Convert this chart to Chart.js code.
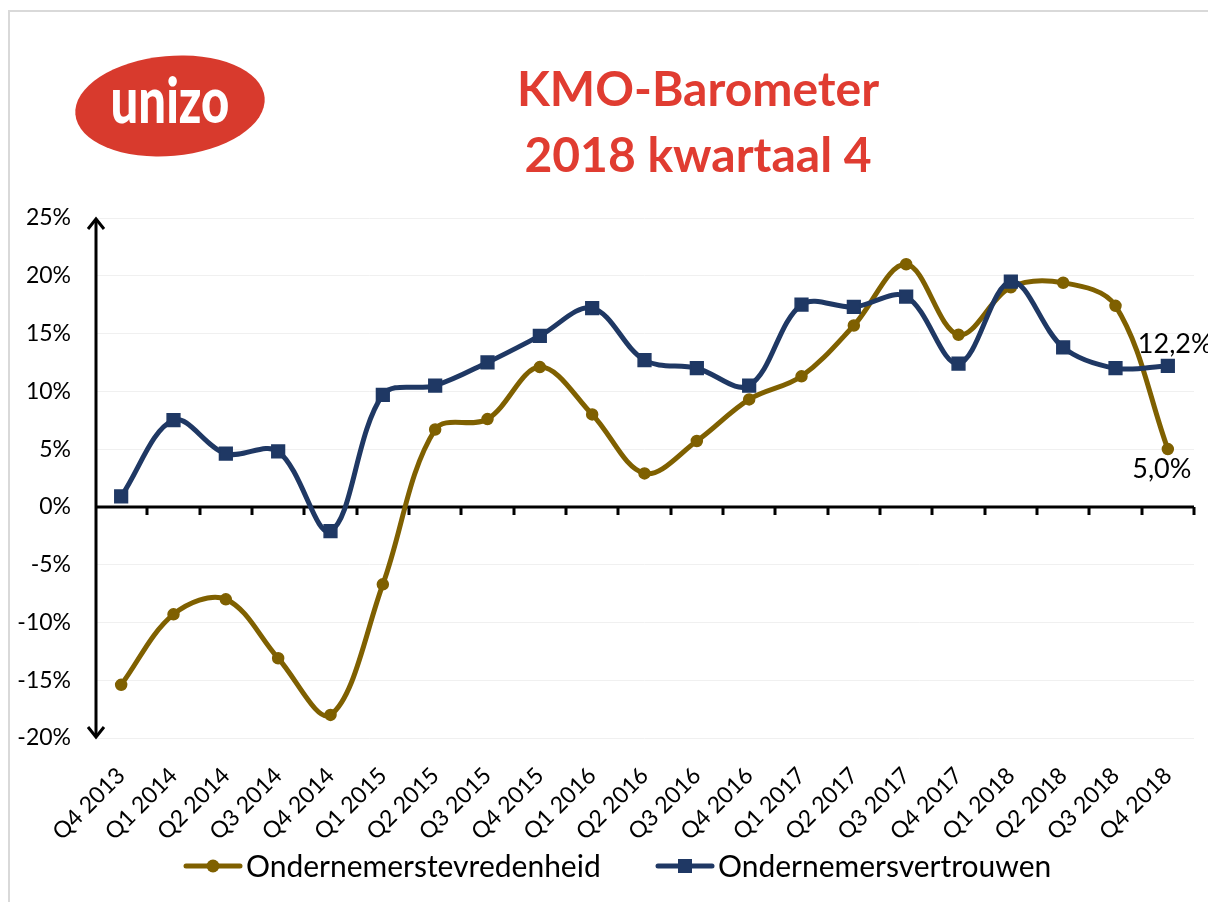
<!DOCTYPE html>
<html>
<head>
<meta charset="utf-8">
<title>KMO-Barometer 2018 kwartaal 4</title>
<script src="https://cdn.jsdelivr.net/npm/chart.js@4/dist/chart.umd.min.js"></script>
<style>
  html, body { margin: 0; padding: 0; background: #fff; }
  #wrap { width: 1208px; height: 902px; }
</style>
</head>
<body>
<div id="wrap"><canvas id="barometer" width="1208" height="902"></canvas></div>
<script>
const quarters = [
  "Q4 2013", "Q1 2014", "Q2 2014", "Q3 2014", "Q4 2014", "Q1 2015", "Q2 2015",
  "Q3 2015", "Q4 2015", "Q1 2016", "Q2 2016", "Q3 2016", "Q4 2016", "Q1 2017",
  "Q2 2017", "Q3 2017", "Q4 2017", "Q1 2018", "Q2 2018", "Q3 2018", "Q4 2018",
];
const tevredenheid = [
  -15.4, -9.3, -8.0, -13.1, -18.0, -6.7, 6.7, 7.6, 12.1, 8.0, 2.9,
  5.7, 9.3, 11.3, 15.7, 21.0, 14.9, 19.0, 19.4, 17.4, 5.0,
];
const vertrouwen = [
  0.9, 7.5, 4.6, 4.8, -2.1, 9.7, 10.5, 12.5, 14.8, 17.2, 12.7,
  12.0, 10.5, 17.5, 17.3, 18.2, 12.4, 19.5, 13.8, 12.0, 12.2,
];
const seriesNames = ["Ondernemerstevredenheid", "Ondernemersvertrouwen"];
const yMin = -20;
const yMax = 25;
const yStep = 5;

const gold = "#7f6000";
const navy = "#1f3864";
const font = "Lato, 'Open Sans', sans-serif";

const fmt = (v) => v.toFixed(1).replace(".", ",") + "%";

// everything Chart.js does not draw by itself: frame, logo, title,
// the zero axis with ticks, the double arrow, end labels and legend
const decor = {
  id: "decor",
  beforeDraw(chart) {
    const ctx = chart.ctx;
    ctx.save();
    ctx.fillStyle = "#fff";
    ctx.fillRect(0, 0, chart.width, chart.height);

    ctx.strokeStyle = "#d9d9d9";
    ctx.lineWidth = 2;
    ctx.beginPath();
    ctx.moveTo(9, chart.height);
    ctx.lineTo(9, 11);
    ctx.lineTo(chart.width, 11);
    ctx.stroke();

    // logo
    ctx.save();
    ctx.translate(170, 106);
    ctx.rotate(-0.09);
    ctx.fillStyle = "#d83a2d";
    ctx.beginPath();
    ctx.ellipse(0, 0, 95, 50, 0, 0, Math.PI * 2);
    ctx.fill();
    ctx.rotate(0.09);
    ctx.scale(1, 1.3);
    ctx.fillStyle = "#fff";
    ctx.font = "900 49px " + font;
    ctx.textAlign = "center";
    ctx.textBaseline = "alphabetic";
    ctx.fillText("unizo", 0, 13);
    ctx.restore();

    // title
    ctx.fillStyle = "#e03c31";
    ctx.font = "bold 48px " + font;
    ctx.textAlign = "center";
    ctx.textBaseline = "alphabetic";
    ctx.fillText("KMO-Barometer", 698, 106);
    ctx.fillText("2018 kwartaal 4", 698, 172);
    ctx.restore();
  },
  beforeDatasetsDraw(chart) {
    const ctx = chart.ctx;
    const x = chart.scales.x;
    const y = chart.scales.y;
    const area = chart.chartArea;
    const zero = y.getPixelForValue(0);
    const step = x.getPixelForValue(1) - x.getPixelForValue(0);
    ctx.save();
    ctx.strokeStyle = "#000";
    ctx.lineWidth = 3;

    // zero line with ticks between the quarters
    ctx.beginPath();
    ctx.moveTo(area.left, zero);
    ctx.lineTo(area.right, zero);
    for (let i = 0; i < quarters.length; i++) {
      const tx = Math.round(x.getPixelForValue(i) + step / 2);
      ctx.moveTo(tx, zero);
      ctx.lineTo(tx, zero + 8);
    }
    ctx.stroke();

    // vertical double arrow
    const ax = area.left + 1;
    const top = y.getPixelForValue(yMax);
    const bot = y.getPixelForValue(yMin);
    ctx.beginPath();
    ctx.moveTo(ax, top + 2);
    ctx.lineTo(ax, bot - 2);
    ctx.stroke();
    ctx.lineJoin = "miter";
    ctx.beginPath();
    ctx.moveTo(ax - 8, top + 11);
    ctx.lineTo(ax, top + 1);
    ctx.lineTo(ax + 8, top + 11);
    ctx.moveTo(ax - 8, bot - 11);
    ctx.lineTo(ax, bot - 1);
    ctx.lineTo(ax + 8, bot - 11);
    ctx.stroke();
    ctx.restore();
  },
  afterDatasetsDraw(chart) {
    const ctx = chart.ctx;
    const last = quarters.length - 1;
    const pGold = chart.getDatasetMeta(0).data[last];
    const pNavy = chart.getDatasetMeta(1).data[last];
    ctx.save();
    ctx.fillStyle = "#000";
    ctx.font = "27px " + font;
    ctx.textBaseline = "middle";
    ctx.textAlign = "left";
    ctx.fillText(fmt(vertrouwen[last]), pNavy.x - 30, pNavy.y - 22);
    ctx.textAlign = "center";
    ctx.fillText(fmt(tevredenheid[last]), pGold.x - 6, pGold.y + 20);

    // legend
    const ly = 866;
    const items = [
      { x: 186, color: gold, marker: "circle", text: seriesNames[0] },
      { x: 658, color: navy, marker: "rect", text: seriesNames[1] },
    ];
    ctx.font = "30px " + font;
    ctx.textAlign = "left";
    items.forEach((it) => {
      ctx.strokeStyle = it.color;
      ctx.fillStyle = it.color;
      ctx.lineWidth = 5;
      ctx.lineCap = "round";
      ctx.beginPath();
      ctx.moveTo(it.x, ly);
      ctx.lineTo(it.x + 54, ly);
      ctx.stroke();
      ctx.beginPath();
      if (it.marker === "circle") {
        ctx.arc(it.x + 27, ly, 6.5, 0, Math.PI * 2);
      } else {
        ctx.rect(it.x + 20, ly - 7, 14, 14);
      }
      ctx.fill();
      ctx.fillStyle = "#000";
      ctx.fillText(it.text, it.x + 60, ly + 1);
    });
    ctx.restore();
  },
};

new Chart(document.getElementById("barometer"), {
  type: "line",
  data: {
    labels: quarters,
    datasets: [
      {
        label: seriesNames[0],
        data: tevredenheid,
        borderColor: gold,
        backgroundColor: gold,
        borderWidth: 5,
        tension: 0.35,
        pointStyle: "circle",
        pointRadius: 5.5,
        pointBorderWidth: 1.5,
        order: 1,
      },
      {
        label: seriesNames[1],
        data: vertrouwen,
        borderColor: navy,
        backgroundColor: navy,
        borderWidth: 5,
        tension: 0.35,
        pointStyle: "rect",
        pointRadius: 9,
        pointBorderWidth: 1.5,
        order: 0,
      },
    ],
  },
  options: {
    responsive: false,
    animation: false,
    events: [],
    layout: {
      padding: { top: 218, right: 14, left: 0, bottom: 0 },
    },
    scales: {
      x: {
        offset: true,
        grid: { display: false },
        border: { display: false },
        ticks: {
          color: "#000",
          font: { family: font, size: 23 },
          minRotation: 45,
          maxRotation: 45,
          padding: 16,
          autoSkip: false,
        },
        afterFit: (s) => {
          s.height = 164;
        },
      },
      y: {
        min: yMin,
        max: yMax,
        border: { display: false },
        grid: { color: "#f0f0f0", lineWidth: 1, drawTicks: false },
        ticks: {
          stepSize: yStep,
          color: "#000",
          font: { family: font, size: 23 },
          padding: 24,
          callback: (v) => v + "%",
        },
        afterFit: (s) => {
          s.width = 95;
        },
      },
    },
    plugins: {
      legend: { display: false },
      tooltip: { enabled: false },
      title: { display: false },
    },
  },
  plugins: [decor],
});
</script>
</body>
</html>
